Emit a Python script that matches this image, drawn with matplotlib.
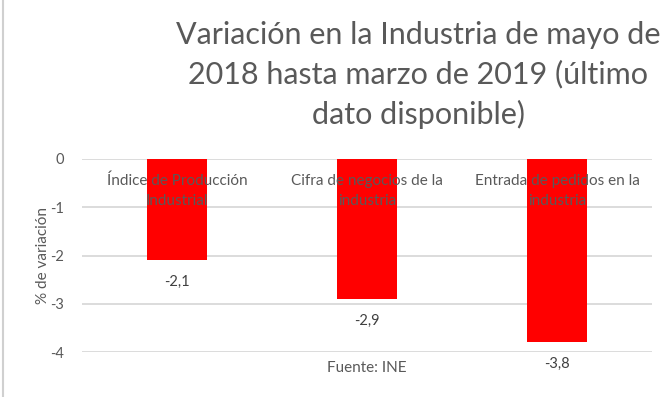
import matplotlib
matplotlib.use("Agg")
import matplotlib.pyplot as plt
from matplotlib.lines import Line2D

categories = ["Índice de Producción\nIndustrial", "Cifra de negocios de la\nindustria", "Entrada de pedidos en la\nindustria"]
values = [-2.1, -2.9, -3.8]
value_labels = ["-2,1", "-2,9", "-3,8"]
yticks = [0, -1, -2, -3, -4]

W, H = 672, 397
fig = plt.figure(figsize=(W/100, H/100), dpi=100)
plt.rcParams['font.family'] = ['Lato', 'DejaVu Sans']
gray = "#595959"

ax = fig.add_axes([82/W, 1-352/H, 570/W, (352-159)/H])
x = list(range(len(categories)))
ax.bar(x, values, width=0.315, color="#ff0000", zorder=2)
ax.set_xlim(-0.5, 2.5)
ax.set_ylim(-4, 0)
ax.set_yticks(yticks)
ax.set_yticklabels([str(t) for t in yticks], color=gray, fontsize=10.5)
ax.tick_params(axis='y', length=0, pad=13)
ax.set_xticks([])
ax.grid(axis='y', color="#d9d9d9", linewidth=1.3, zorder=0)
ax.set_axisbelow(True)
for s in ax.spines.values():
    s.set_visible(False)
ax.set_ylabel("% de variación", color=gray, fontsize=11, labelpad=0)

for xi, cat in zip(x, categories):
    ax.text(xi, -0.66, cat, ha='center', va='center', color=gray, fontsize=11,
            linespacing=1.55, zorder=3)
for xi, v, lab in zip(x, values, value_labels):
    ax.annotate(lab, (xi, v), xytext=(0, -22), textcoords='offset pixels',
                ha='center', va='center', color="#404040", fontsize=10.5,
                annotation_clip=False, zorder=3)

fig.text(367/W, 1-368/H, "Fuente: INE", ha='center', va='center', color=gray, fontsize=11)
fig.text(418/W, 1-75/H, "Variación en la Industria de mayo de\n2018 hasta marzo de 2019 (último\ndato disponible)",
         ha='center', va='center', color=gray, fontsize=22, linespacing=1.47)

fig.add_artist(Line2D([2.5/W, 2.5/W], [0, 1], color="#d0d0d0", linewidth=1.5, transform=fig.transFigure))

fig.savefig("out.png", dpi=100)
